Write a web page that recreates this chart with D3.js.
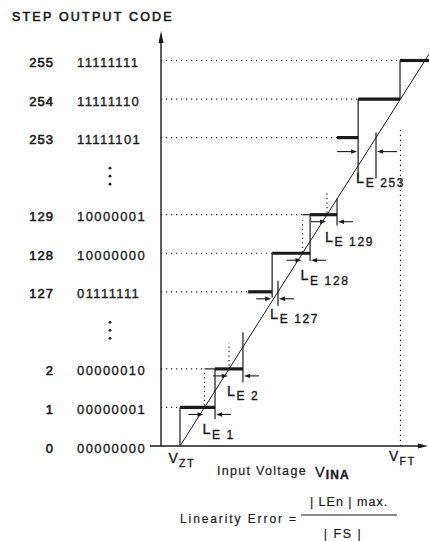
<!DOCTYPE html>
<meta charset="utf-8">
<style>
body { margin: 0; background: #fff; }
svg text { font-family: "Liberation Sans", Arial, sans-serif; fill: #1a1a1a; stroke: #1a1a1a; stroke-width: 0.35; }
</style>
<body>
<script src="https://cdn.jsdelivr.net/npm/d3@7/dist/d3.min.js"></script>
<script>

///------> Data <-----/////
// output codes on the left and their row on the (gapped) vertical scale
var codes   = [0, 1, 2, 127, 128, 129, 253, 254, 255];
var binary  = ["00000000", "00000001", "00000010", "01111111", "10000000",
               "10000001", "11111101", "11111110", "11111111"];
var rows    = [0, 1, 2, 4, 5, 6, 8, 9, 10];
var gapRows = [3, 7];            // rows taken by the vertical ellipses

// actual step treads, input in LSB counted from V_ZT
var stepCodes  = [1, 2, 127, 128, 129, 253, 254, 255];
var stepRows   = [1, 2, 4, 5, 6, 8, 9, 10];
var treadStart = [0, 1.43, 2.78, 3.76, 5.31, 6.41, 7.27, 8.98];
var treadEnd   = [1.43, 2.57, 3.76, 5.31, 6.41, 7.27, 8.98, 10.2];

// risers as [input, from row, to row]
var risers = [[0, 0, 1], [1.43, 0.7, 2], [2.57, 1.65, 2.95], [3.76, 3.85, 5],
              [5.31, 4.8, 6], [6.41, 5.72, 6.42], [7.27, 6.94, 9], [8.98, 9, 10]];
// ideal transitions, drawn dotted
var idealRisers = [[1, 1.05, 1.95], [2, 2.08, 2.68], [5, 5.02, 5.85], [6, 6.05, 6.57]];

// codes that carry a linearity error mark
var errCodes = [1, 2, 127, 128, 129, 253];
var vFT = 9;          // full scale transition
var lineEnd = 10.3;   // ideal straight line runs off the top right

///------> Setup <-----/////
var width = 429, height = 541;
var axisX = 161;      // the vertical (code) axis

var x = d3.scaleLinear().domain([0, 10]).range([180, 425]);
var y = d3.scaleLinear().domain([0, 10]).range([446, 60.5]);

var ink = "#1a1a1a";

var svg = d3.select("body").append("svg")
    .attr("width", width)
    .attr("height", height);

// title
svg.append("text")
    .attr("x", 12).attr("y", 21)
    .attr("font-size", 12.5)
    .attr("letter-spacing", 2.2)
    .style("stroke-width", 0.6)
    .text("STEP OUTPUT CODE");

// row labels
var rowLab = svg.append("g").selectAll("g")
    .data(codes)
    .enter().append("g")
    .attr("transform", function(d, i) { return "translate(0," + y(rows[i]) + ")"; });

rowLab.append("text")
    .attr("x", 54).attr("dy", 6.5)
    .attr("text-anchor", "end")
    .attr("font-size", 13)
    .attr("letter-spacing", 1)
    .style("stroke-width", 0.6)
    .text(function(d) { return d; });

rowLab.append("text")
    .attr("x", 77).attr("dy", 6.5)
    .attr("font-size", 13)
    .attr("letter-spacing", 1.4)
    .text(function(d, i) { return binary[i]; });

// vertical ellipses
gapRows.forEach(function(r) {
  [-8, 0, 8].forEach(function(o) {
    svg.append("circle")
        .attr("cx", 110).attr("cy", y(r) + o)
        .attr("r", 1.4)
        .attr("fill", ink);
  });
});

// dotted level lines from the axis to the start of each step
svg.append("g").selectAll("line")
    .data(stepCodes)
    .enter().append("line")
    .attr("x1", axisX)
    .attr("x2", function(d, i) { return x(Math.min(treadStart[i], stepRows[i] - 1)); })
    .attr("y1", function(d, i) { return y(stepRows[i]); })
    .attr("y2", function(d, i) { return y(stepRows[i]); })
    .attr("stroke", ink)
    .attr("stroke-width", 1.2)
    .attr("stroke-dasharray", "1.2 3.8");

// axes
svg.append("line")
    .attr("x1", axisX).attr("x2", axisX)
    .attr("y1", 40).attr("y2", y(0))
    .attr("stroke", ink).attr("stroke-width", 1.4);
svg.append("path")
    .attr("d", "M" + axisX + ",31 L" + (axisX - 2.5) + ",43 L" + (axisX + 2.5) + ",43 Z")
    .attr("fill", ink);

svg.append("line")
    .attr("x1", 150).attr("x2", 420)
    .attr("y1", y(0)).attr("y2", y(0))
    .attr("stroke", ink).attr("stroke-width", 1.4);
svg.append("path")
    .attr("d", "M428," + y(0) + " L418," + (y(0) - 2.5) + " L418," + (y(0) + 2.5) + " Z")
    .attr("fill", ink);

// full scale marker
svg.append("line")
    .attr("x1", x(vFT)).attr("x2", x(vFT))
    .attr("y1", y(0)).attr("y2", y(8.2))
    .attr("stroke", ink)
    .attr("stroke-width", 1.2)
    .attr("stroke-dasharray", "1.2 3.8");

// ideal transfer line
svg.append("line")
    .attr("x1", x(0)).attr("y1", y(0))
    .attr("x2", x(lineEnd)).attr("y2", y(lineEnd))
    .attr("stroke", ink).attr("stroke-width", 1);

// thin ideal tread where the real step starts late
svg.append("g").selectAll("line")
    .data(stepCodes.filter(function(d, i) { return stepRows[i] - 1 < treadStart[i] - 0.05; }))
    .enter().append("line")
    .each(function(d) {
      var i = stepCodes.indexOf(d);
      d3.select(this)
        .attr("x1", x(stepRows[i] - 1)).attr("x2", x(treadStart[i]))
        .attr("y1", y(stepRows[i])).attr("y2", y(stepRows[i]));
    })
    .attr("stroke", ink).attr("stroke-width", 1.2);

// thick treads
svg.append("g").selectAll("line")
    .data(stepCodes)
    .enter().append("line")
    .attr("x1", function(d, i) { return x(treadStart[i]); })
    .attr("x2", function(d, i) { return x(treadEnd[i]); })
    .attr("y1", function(d, i) { return y(stepRows[i]); })
    .attr("y2", function(d, i) { return y(stepRows[i]); })
    .attr("stroke", ink)
    .attr("stroke-width", 3.2);

// risers
svg.append("g").selectAll("line")
    .data(risers)
    .enter().append("line")
    .attr("x1", function(d) { return x(d[0]); })
    .attr("x2", function(d) { return x(d[0]); })
    .attr("y1", function(d) { return y(d[1]); })
    .attr("y2", function(d) { return y(d[2]); })
    .attr("stroke", ink).attr("stroke-width", 1.2);

svg.append("g").selectAll("line")
    .data(idealRisers)
    .enter().append("line")
    .attr("x1", function(d) { return x(d[0]); })
    .attr("x2", function(d) { return x(d[0]); })
    .attr("y1", function(d) { return y(d[1]); })
    .attr("y2", function(d) { return y(d[2]); })
    .attr("stroke", ink)
    .attr("stroke-width", 1.2)
    .attr("stroke-dasharray", "1.2 3.3");

// linearity error marks
var errLayout = {253: {arrowDy: 14, labelDy: 45, len: 21, tick: [-5, 41]},
                 127: {tick: [-11, 14]}};

function arrow(x1, x2, yy) {
  var dir = x2 > x1 ? 1 : -1;
  svg.append("line")
      .attr("x1", x1).attr("x2", x2 - dir * 4)
      .attr("y1", yy).attr("y2", yy)
      .attr("stroke", ink).attr("stroke-width", 1.1);
  svg.append("path")
      .attr("d", "M" + x2 + "," + yy + " L" + (x2 - dir * 6) + "," + (yy - 2.2) +
                 " L" + (x2 - dir * 6) + "," + (yy + 2.2) + " Z")
      .attr("fill", ink);
}

errCodes.forEach(function(c) {
  var i = stepCodes.indexOf(c);
  var r = stepRows[i];
  var ideal = r, real = treadEnd[i];
  var lo = Math.min(ideal, real), hi = Math.max(ideal, real);
  var lay = Object.assign({arrowDy: 7, labelDy: 27, len: 16}, errLayout[c] || {});
  var ay = y(r) + lay.arrowDy;

  arrow(x(lo) - lay.len, x(lo) - 1, ay);
  arrow(x(hi) + lay.len, x(hi) + 1, ay);

  if (lay.tick) {
    svg.append("line")
        .attr("x1", x(ideal)).attr("x2", x(ideal))
        .attr("y1", y(r) + lay.tick[0]).attr("y2", y(r) + lay.tick[1])
        .attr("stroke", ink).attr("stroke-width", 1.2);
  }

  var t = svg.append("text")
      .attr("x", x(lo) - 2)
      .attr("y", y(r) + lay.labelDy);
  t.append("tspan").attr("font-size", 14.5).text("L");
  t.append("tspan")
      .attr("font-size", 12)
      .attr("dx", 1.5).attr("dy", 4.5)
      .attr("letter-spacing", 1.6)
      .text("E " + c);
});

// axis labels
function vLabel(cx, base, sub) {
  var t = svg.append("text")
      .attr("x", cx).attr("y", base)
      .attr("text-anchor", "middle");
  t.append("tspan").attr("font-size", 14).text("V");
  t.append("tspan")
      .attr("font-size", 10.5)
      .attr("dx", 1).attr("dy", 4)
      .attr("letter-spacing", 1.8)
      .text(sub);
}
vLabel(x(0) + 2, 463, "ZT");
vLabel(x(vFT) + 2, 461, "FT");

svg.append("text")
    .attr("x", 217).attr("y", 475)
    .attr("font-size", 12.5)
    .attr("letter-spacing", 1.3)
    .style("stroke-width", 0.2)
    .text("Input Voltage");

var vin = svg.append("text")
    .attr("x", 315).attr("y", 477);
vin.append("tspan").attr("font-size", 14.5).text("V");
vin.append("tspan")
    .attr("font-size", 12)
    .attr("font-weight", "bold")
    .attr("dx", 1).attr("dy", 2)
    .attr("letter-spacing", 1.2)
    .text("INA");

// linearity error formula
svg.append("text")
    .attr("x", 180).attr("y", 523)
    .attr("font-size", 12)
    .attr("letter-spacing", 1.9)
    .style("stroke-width", 0.2)
    .text("Linearity Error =");

svg.append("line")
    .attr("x1", 301).attr("x2", 397)
    .attr("y1", 515).attr("y2", 515)
    .attr("stroke", ink).attr("stroke-width", 1.2);

svg.append("text")
    .attr("x", 349).attr("y", 506)
    .attr("text-anchor", "middle")
    .attr("font-size", 12.5)
    .attr("letter-spacing", 1)
    .style("stroke-width", 0.2)
    .text("| LEn | max.");

svg.append("text")
    .attr("x", 343).attr("y", 538)
    .attr("text-anchor", "middle")
    .attr("font-size", 12.5)
    .attr("letter-spacing", 1.5)
    .style("stroke-width", 0.2)
    .text("| FS |");

</script>
</body>
